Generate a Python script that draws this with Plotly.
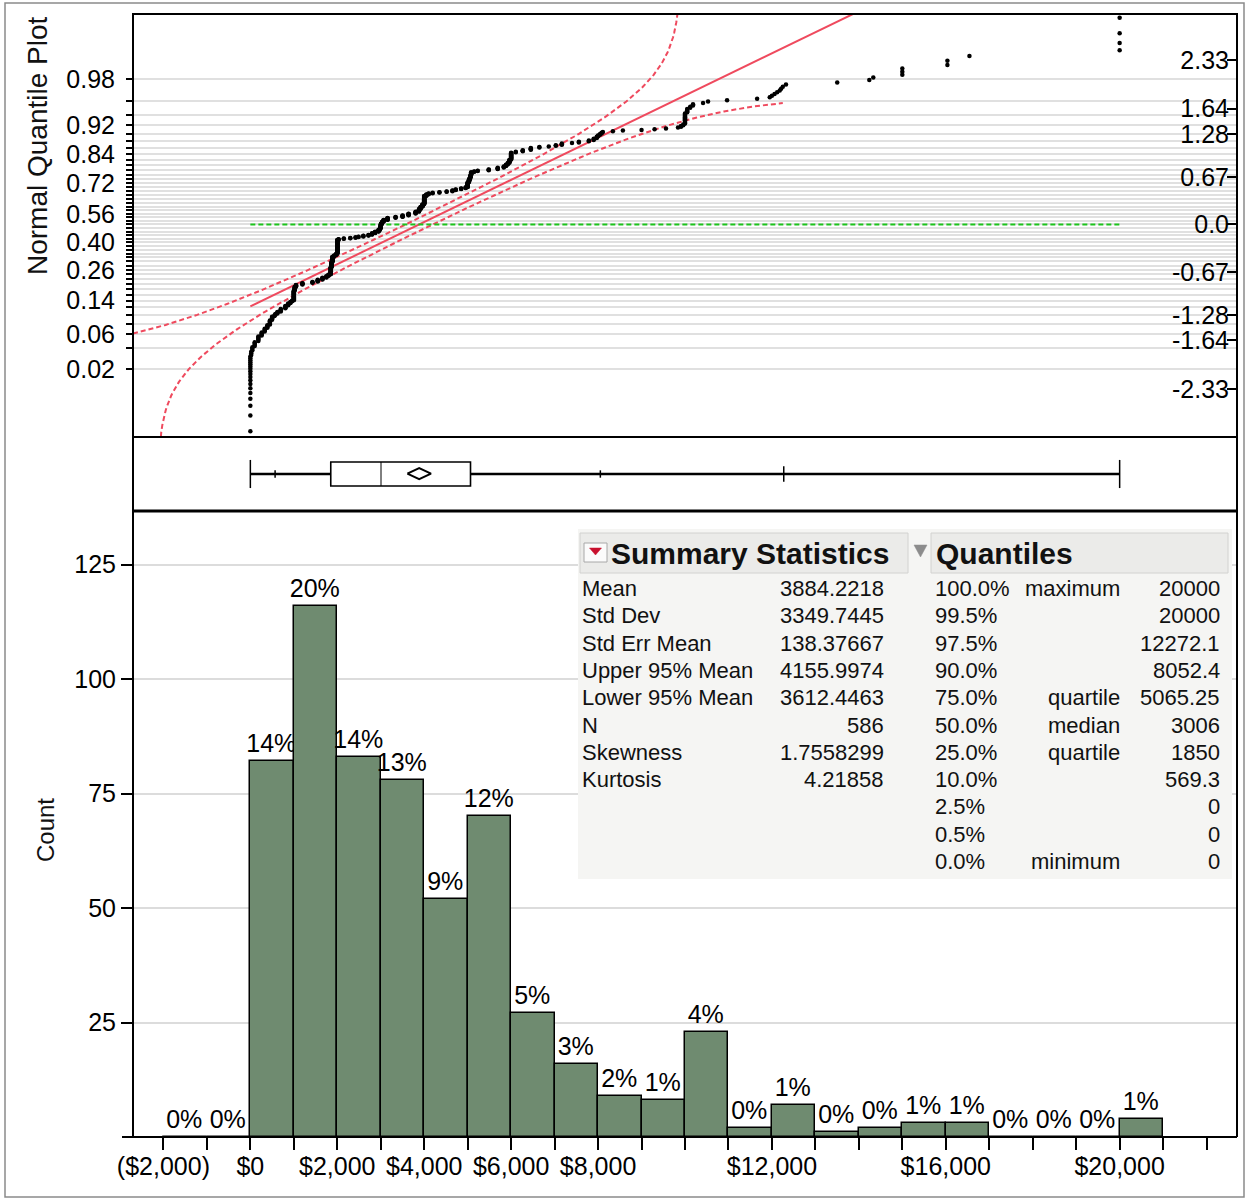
"""
Distribution report (JMP style): normal quantile plot, outlier box plot,
histogram and the summary statistics / quantiles tables.
"""

from statistics import NormalDist

import plotly.graph_objects as go

# ---------------------------------------------------------------- data ---
# histogram: $1,000 bins starting at -$2,000
bin_starts = list(range(-2000, 21000, 1000))
bin_counts = [0, 0, 82, 116, 83, 78, 52, 70, 27, 16, 9, 8, 23, 2, 7, 1, 2, 3,
              3, 0, 0, 0, 4]

# sorted amounts behind the quantile plot, as level / how many times it occurs
amount_levels = [
    0, 20, 46, 100, 184, 260, 330, 392, 450, 500, 555, 575, 622, 700, 806,
    870, 922, 960,
    1000, 1020, 1050, 1198, 1429, 1550, 1659, 1750, 1797, 1848, 1850, 1870,
    1890, 1930, 1970,
    2000, 2030, 2150, 2300, 2420, 2488, 2600, 2719, 2800, 2870, 2949, 2980,
    3000, 3006, 3030, 3065, 3157, 3341, 3502, 3640, 3802, 3880, 3917, 3960,
    4000, 4050, 4101, 4194, 4350, 4516, 4650, 4724, 4850, 4954,
    5000, 5030, 5050, 5065, 5080, 5150, 5230, 5484, 5691, 5830, 5880, 5922,
    5960,
    6000, 6106, 6267, 6452, 6650, 6866,
    7028, 7166, 7400, 7558, 7788, 7900, 7970,
    8000, 8040, 8080, 8111, 8341, 8571,
    9000, 9300, 9562, 9839, 9908, 9960,
    10000, 10050, 10120, 10184, 10415, 10530, 10968,
    11659, 11950,
    12000, 12060, 12120, 12180, 12212, 12250, 12323,
    13502, 14240, 14332, 15000, 16037, 16544, 20000,
]
amount_repeats = [
    18, 3, 3, 4, 5, 4, 4, 4, 6, 5, 2, 2, 3, 5, 5,
    4, 3, 2,
    20, 8, 5, 4, 3, 5, 5, 4, 4, 6, 14, 15,
    15, 4, 4,
    44, 3, 2, 2, 2, 2, 3, 3, 5, 5, 6, 6,
    9, 6, 6, 6, 7, 3, 5, 6, 6, 9, 7, 8,
    26, 5, 3, 2, 2, 2, 3, 3, 3, 3,
    14, 8, 5, 6, 8, 2, 2, 3, 4, 3, 4, 4,
    7,
    15, 2, 3, 4, 2, 1,
    2, 3, 1, 2, 2, 3, 3,
    2, 2, 2, 1, 1, 1,
    1, 1, 1, 1, 2, 2,
    12, 4, 2, 2, 1, 1, 1,
    1, 1,
    1, 1, 1, 1, 1, 1, 1,
    1, 1, 1, 3, 2, 1, 4,
]

# summary statistics table
stat_names = ["Mean", "Std Dev", "Std Err Mean", "Upper 95% Mean",
              "Lower 95% Mean", "N", "Skewness", "Kurtosis"]
stat_values = ["3884.2218", "3349.7445", "138.37667", "4155.9974",
               "3612.4463", "586", "1.7558299", "4.21858"]

# quantiles table
quant_levels = ["100.0%", "99.5%", "97.5%", "90.0%", "75.0%", "50.0%",
                "25.0%", "10.0%", "2.5%", "0.5%", "0.0%"]
quant_words = ["maximum", "", "", "", "quartile", "median", "quartile", "",
               "", "", "minimum"]
quant_values = ["20000", "20000", "12272.1", "8052.4", "5065.25", "3006",
                "1850", "569.3", "0", "0", "0"]

# axis labels
x_label_vals = [-2000, 0, 2000, 4000, 6000, 8000, 12000, 16000, 20000]
x_label_text = ["($2,000)", "$0", "$2,000", "$4,000", "$6,000", "$8,000",
                "$12,000", "$16,000", "$20,000"]
prob_labels = [0.02, 0.06, 0.14, 0.26, 0.40, 0.56, 0.72, 0.84, 0.92, 0.98]
z_labels = [2.33, 1.64, 1.28, 0.67, 0.0, -0.67, -1.28, -1.64, -2.33]
z_label_text = ["2.33", "1.64", "1.28", "0.67", "0.0", "-0.67", "-1.28",
                "-1.64", "-2.33"]

assert len(amount_levels) == len(amount_repeats)

# ------------------------------------------------------- derived values ---
mean = float(stat_values[0])
std = float(stat_values[1])
upper_mean = float(stat_values[3])
lower_mean = float(stat_values[4])
n = int(stat_values[5])
q_max, q_975, q_90, q_75, q_50, q_25, q_10 = [
    float(v) for v in quant_values[:1] + quant_values[2:8]
]
q_min = float(quant_values[-1])

std_normal = NormalDist()

sorted_amounts = []
for level, repeat in zip(amount_levels, amount_repeats):
    sorted_amounts += [level] * repeat
normal_scores = [std_normal.inv_cdf(r / (len(sorted_amounts) + 1))
                 for r in range(1, len(sorted_amounts) + 1)]

# Lilliefors 95% confidence bounds around the fitted normal line
lillie_d = 0.886 / n ** 0.5


def band(x_from, x_to, sign):
    xs, zs = [], []
    x = x_from
    while x <= x_to:
        p = std_normal.cdf((x - mean) / std) + sign * lillie_d
        if 1e-7 < p < 1 - 1e-7:
            xs.append(x)
            zs.append(std_normal.inv_cdf(p))
        x += 25
    return xs, zs


upper_x, upper_z = band(-2700, 10000, 1)
lower_x, lower_z = band(-2700, q_975, -1)

# ---------------------------------------------------------------- layout ---
W, H = 1247, 1200
X_RANGE = [-2700, 22700]
FONT = "Liberation Sans, Arial, Helvetica, sans-serif"
RED = "#ef4a5e"
BAR_GREEN = "#6f8b70"


def px(v):
    return v / W


def py(v):
    return 1 - v / H


x_domain = [px(133), px(1237)]

figure = go.Figure()

# histogram
percent_text = [f"{round(100 * c / sum(bin_counts))}%" for c in bin_counts]
figure.add_trace(
    go.Bar(
        x=[s + 500 for s in bin_starts],
        y=bin_counts,
        width=1000,
        marker=dict(color=BAR_GREEN, line=dict(color="black", width=1.5)),
        text=percent_text,
        textposition="outside",
        textfont=dict(size=25, color="black", family=FONT),
        constraintext="none",
        cliponaxis=False,
        xaxis="x",
        yaxis="y",
        hoverinfo="skip",
    )
)

# quantile plot: confidence bands, fitted line, zero line, points
for bx, bz in [(upper_x, upper_z), (lower_x, lower_z)]:
    figure.add_trace(
        go.Scatter(
            x=bx, y=bz, mode="lines",
            line=dict(color=RED, width=2, dash="5px,3px"),
            xaxis="x3", yaxis="y3", hoverinfo="skip",
        )
    )

figure.add_trace(
    go.Scatter(
        x=[q_min, q_max],
        y=[(q_min - mean) / std, (q_max - mean) / std],
        mode="lines",
        line=dict(color=RED, width=2),
        xaxis="x3", yaxis="y3", hoverinfo="skip",
    )
)

figure.add_trace(
    go.Scatter(
        x=[q_min, q_max], y=[0, 0], mode="lines",
        line=dict(color="#1cc41c", width=2, dash="5px,3px"),
        xaxis="x3", yaxis="y3", hoverinfo="skip",
    )
)

figure.add_trace(
    go.Scatter(
        x=sorted_amounts, y=normal_scores, mode="markers",
        marker=dict(color="black", size=4.5),
        xaxis="x3", yaxis="y3",
    )
)

# invisible trace so the right-hand normal-quantile axis is drawn
figure.add_trace(
    go.Scatter(
        x=[q_min], y=[0], mode="markers", marker=dict(opacity=0),
        xaxis="x3", yaxis="y4", hoverinfo="skip",
    )
)

# mean diamond of the box plot
figure.add_trace(
    go.Scatter(
        x=[lower_mean, mean, upper_mean, mean, lower_mean],
        y=[0.505, 0.58, 0.505, 0.43, 0.505],
        mode="lines",
        line=dict(color="black", width=2),
        xaxis="x2", yaxis="y2", hoverinfo="skip",
    )
)

# ---------------------------------------------------------------- shapes ---
shapes = []


def paper_line(x0, y0, x1, y1, width=2, color="black"):
    shapes.append(dict(
        type="line", xref="paper", yref="paper",
        x0=px(x0), y0=py(y0), x1=px(x1), y1=py(y1),
        line=dict(color=color, width=width), layer="above",
    ))


def paper_rect(x0, y0, x1, y1, fill="rgba(0,0,0,0)", color="black",
               width=2):
    shapes.append(dict(
        type="rect", xref="paper", yref="paper",
        x0=px(x0), y0=py(y1), x1=px(x1), y1=py(y0),
        fillcolor=fill, line=dict(color=color, width=width), layer="above",
    ))


def paper_triangle(x0, x1, y_top, y_tip, color):
    path = (f"M {px(x0)} {py(y_top)} L {px(x1)} {py(y_top)} "
            f"L {px((x0 + x1) / 2)} {py(y_tip)} Z")
    shapes.append(dict(
        type="path", xref="paper", yref="paper", path=path,
        fillcolor=color, line=dict(color=color, width=0.5), layer="above",
    ))


# outer frame and panel frames
paper_rect(5, 3, 1244, 1197, color="#8a8a8a", width=1.5)
paper_rect(133, 14, 1237, 437)
paper_rect(133, 437, 1237, 511)
paper_line(133, 511, 1237, 511, width=3)
paper_line(133, 511, 133, 1137)
paper_line(1237, 511, 1237, 1137)
paper_line(122, 1137, 1237, 1137)

# box plot (data coordinates, under the mean diamond trace)
box_ref = dict(xref="x2", yref="y2", layer="below")
shapes.append(dict(type="line", x0=q_min, x1=q_max, y0=0.5, y1=0.5,
                   line=dict(color="black", width=2.5), **box_ref))
for cap in (q_min, q_max):
    shapes.append(dict(type="line", x0=cap, x1=cap, y0=0.31, y1=0.69,
                       line=dict(color="black", width=1.5), **box_ref))
shapes.append(dict(type="rect", x0=q_25, x1=q_75, y0=0.338, y1=0.662,
                   fillcolor="white", line=dict(color="black", width=1.6),
                   **box_ref))
shapes.append(dict(type="line", x0=q_50, x1=q_50, y0=0.338, y1=0.662,
                   line=dict(color="black", width=1), **box_ref))
for tick_x, half in [(q_10, 0.05), (q_90, 0.05), (q_975, 0.105)]:
    shapes.append(dict(type="line", x0=tick_x, x1=tick_x, y0=0.5 - half,
                       y1=0.5 + half, line=dict(color="black", width=1.5),
                       **box_ref))

# summary tables background and headers
paper_rect(578, 529, 1232, 879, fill="#f5f5f3", color="#f5f5f3", width=0)
paper_rect(580, 533, 908, 573, fill="#ebebe9", color="#d2d2d0", width=1)
paper_rect(931, 533, 1228, 573, fill="#ebebe9", color="#d2d2d0", width=1)
paper_rect(584, 543, 607, 562, fill="#fbfbfb", color="#a8a8a8", width=1)
paper_triangle(589.5, 601.5, 548, 555, "#c8102e")
paper_triangle(914, 927, 545, 557, "#8c8c8c")

# ----------------------------------------------------------- annotations ---
annotations = []


def text_at(x, y, text, anchor="left", size=22, bold=False, angle=0):
    annotations.append(dict(
        xref="paper", yref="paper", x=px(x), y=py(y),
        text=f"<b>{text}</b>" if bold else text,
        showarrow=False, xanchor=anchor, yanchor="middle", textangle=angle,
        font=dict(family=FONT, size=size, color="#111111"),
    ))


text_at(37, 146, "Normal Quantile Plot", anchor="center", size=28,
        angle=-90)
text_at(45, 830, "Count", anchor="center", size=24, angle=-90)

text_at(609, 553, "Summary Statistics", size=30, bold=True)
text_at(934, 553, "Quantiles", size=30, bold=True)

ROW_TOP, ROW_STEP = 588.5, 27.3
for i, (name, value) in enumerate(zip(stat_names, stat_values)):
    y = ROW_TOP + i * ROW_STEP
    text_at(580, y, name)
    text_at(886, y, value, anchor="right")
for i, (level, word, value) in enumerate(
        zip(quant_levels, quant_words, quant_values)):
    y = ROW_TOP + i * ROW_STEP
    text_at(933, y, level)
    if word:
        text_at(1122, y, word, anchor="right")
    text_at(1222, y, value, anchor="right")

# ----------------------------------------------------------------- axes ---
prob_ticks = [round(0.02 * k, 2) for k in range(1, 50)]
prob_tick_vals = [std_normal.inv_cdf(p) for p in prob_ticks]
prob_tick_text = [f"{p:.2f}" if p in prob_labels else "" for p in prob_ticks]

x_tick_vals = list(range(-2000, 23000, 1000))
x_tick_text = [x_label_text[x_label_vals.index(v)] if v in x_label_vals
               else "" for v in x_tick_vals]

tick_font = dict(family=FONT, size=25, color="black")
Z_RANGE = [-3.01, 2.98]

figure.update_layout(
    width=W,
    height=H,
    margin=dict(l=0, r=0, t=0, b=0),
    paper_bgcolor="white",
    plot_bgcolor="rgba(0,0,0,0)",
    showlegend=False,
    bargap=0,
    font=dict(family=FONT, color="black"),
    shapes=shapes,
    annotations=annotations,
    xaxis=dict(
        domain=x_domain, anchor="y", range=X_RANGE,
        tickmode="array", tickvals=x_tick_vals, ticktext=x_tick_text,
        ticks="outside", ticklen=12, tickwidth=1.5, tickcolor="black",
        tickfont=tick_font, ticklabelstandoff=-5,
        showgrid=False, zeroline=False, showline=False, automargin=False,
    ),
    yaxis=dict(
        domain=[py(1137), py(511)], anchor="x", range=[0, 136.7],
        tickmode="array", tickvals=[25, 50, 75, 100, 125],
        ticks="outside", ticklen=11, tickwidth=1.5, tickcolor="black",
        tickfont=tick_font, showgrid=True, gridcolor="#dcdcdc",
        gridwidth=1.5, zeroline=False, showline=False, automargin=False,
    ),
    xaxis2=dict(domain=x_domain, anchor="y2", range=X_RANGE, visible=False),
    yaxis2=dict(domain=[py(511), py(437)], anchor="x2", range=[0, 1],
                visible=False),
    xaxis3=dict(domain=x_domain, anchor="y3", range=X_RANGE, visible=False),
    yaxis3=dict(
        domain=[py(437), py(14)], anchor="x3", range=Z_RANGE,
        tickmode="array", tickvals=prob_tick_vals, ticktext=prob_tick_text,
        ticks="outside", ticklen=6, tickwidth=1.5, tickcolor="black",
        tickfont=tick_font, ticklabelstandoff=6,
        showgrid=True, gridcolor="#e0e0e0", gridwidth=1.5,
        zeroline=False, showline=False, automargin=False,
    ),
    yaxis4=dict(
        overlaying="y3", anchor="x3", side="right", range=Z_RANGE,
        tickmode="array", tickvals=z_labels, ticktext=z_label_text,
        ticks="inside", ticklen=10, tickwidth=1.5, tickcolor="black",
        ticklabelposition="inside", tickfont=tick_font,
        showgrid=False, zeroline=False, showline=False, automargin=False,
    ),
)

# drop the browser's default page margin so the figure sits at (0, 0)
figure.write_html(
    "out.html",
    config={"displayModeBar": False},
    post_script="document.body.style.margin = '0px';",
)
